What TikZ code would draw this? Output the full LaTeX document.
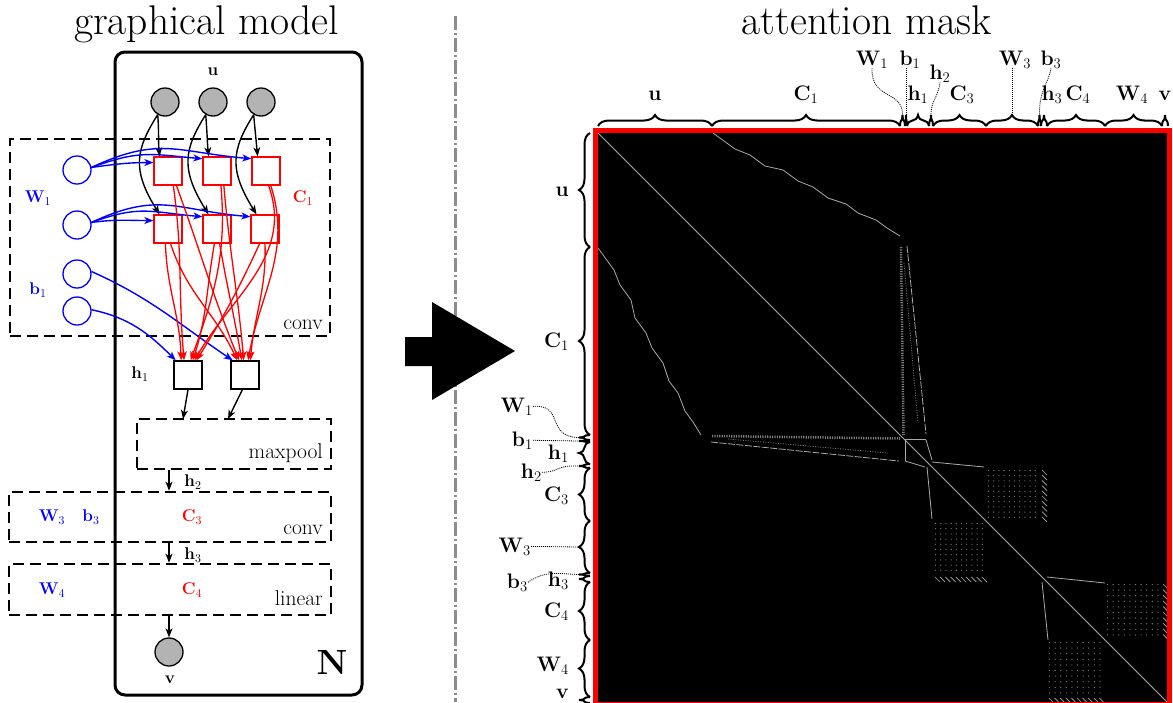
\RequirePackage{fix-cm}
\documentclass[tikz,border=0pt]{standalone}
\usetikzlibrary{arrows.meta,decorations.pathreplacing,calc}

\definecolor{ugray}{RGB}{179,179,179}
\definecolor{mline}{RGB}{170,170,170}
\definecolor{mdot}{RGB}{125,125,125}
\definecolor{sepgray}{RGB}{140,140,140}
\definecolor{pblue}{RGB}{0,0,255}
\definecolor{pred}{RGB}{255,0,0}

\newcommand{\fsz}[1]{\fontsize{#1}{#1}\selectfont}

\tikzset{
  tipb/.style={-{Stealth[length=9pt,width=7pt,inset=2.5pt]}},
  blk/.style={tipb, line width=1.4pt, black},
  blu/.style={tipb, line width=1.4pt, pblue},
  rd/.style={tipb, line width=1.3pt, pred},
  uvar/.style={circle, draw=black, fill=ugray, line width=1.3pt, minimum size=28pt, inner sep=0pt},
  wvar/.style={circle, draw=pblue, fill=white, line width=1.3pt, minimum size=28pt, inner sep=0pt},
  cfac/.style={rectangle, draw=pred, fill=white, line width=1.3pt, minimum size=28pt, inner sep=0pt},
  hvar/.style={rectangle, draw=black, fill=white, line width=1.3pt, minimum size=28pt, inner sep=0pt},
  layerbox/.style={draw, line width=2.6pt, dash pattern=on 11pt off 6pt, inner sep=0pt},
  platebox/.style={draw, line width=3pt, rounded corners=10pt, inner sep=0pt},
  glab/.style={font=\fsz{17}, inner sep=0pt},
  llab/.style={font=\fsz{21.5}, inner sep=0pt, anchor=base east},
  ttl/.style={font=\fsz{41.5}, inner sep=0pt, anchor=base},
  mlab/.style={font=\fsz{21}, inner sep=0pt},
  mbrace/.style={decorate, decoration={brace, amplitude=11pt}, line width=2pt},
  leader/.style={line width=0.8pt, dash pattern=on 1pt off 1pt},
  hatch/.style={mline, line width=0.7pt},
}

\begin{document}
\begin{tikzpicture}[x=1pt,y=1pt]
\useasboundingbox (0,0) rectangle (1173,-702);

% ---------- titles ----------
\node[ttl] (tgm) at (206.5,-34) {graphical model};
\node[ttl] (tam) at (866.5,-34) {attention mask};

% ---------- separator and transition arrow ----------
\draw[sepgray, line width=3pt, dash pattern=on 14pt off 3pt on 2pt off 3pt] (455,-16) -- (455,-702);
\fill (405,-337) -- (432,-337) -- (432,-302) -- (515,-351) -- (432,-400) -- (432,-366) -- (405,-366) -- cycle;

% ---------- graphical model: plate and layer boxes ----------
\node[platebox, minimum width=247pt, minimum height=643pt] (plate) at (238.5,-373.5) {};
\node[layerbox, minimum width=320pt, minimum height=197pt] (conv1) at (170,-237.5) {};
\node[layerbox, minimum width=194pt, minimum height=50pt] (pool) at (234,-444) {};
\node[layerbox, minimum width=322pt, minimum height=50pt] (conv2) at (170,-517) {};
\node[layerbox, minimum width=322pt, minimum height=51pt] (lin) at (170,-589.5) {};
\node[llab] (lconv1) at (323,-329) {conv};
\node[llab] (lpool) at (323,-458) {maxpool};
\node[llab] (lconv2) at (323,-534) {conv};
\node[llab] (llin) at (323,-605) {linear};
\node[font=\fsz{35}, inner sep=0pt] (lN) at (332,-662) {$\mathbf{N}$};

% ---------- variables ----------
\foreach \i/\x in {1/165,2/213,3/261} \node[uvar] (u\i) at (\x,-102) {};
\node[glab] (lu) at (213,-72) {$\mathbf{u}$};
\node[wvar] (w1a) at (77,-170) {};
\node[wvar] (w1b) at (77,-225) {};
\node[wvar] (b1a) at (77,-274) {};
\node[wvar] (b1b) at (77,-311) {};
\node[glab, pblue] (lW1) at (38,-198) {$\mathbf{W}_1$};
\node[glab, pblue] (lb1) at (38,-290) {$\mathbf{b}_1$};
\foreach \i/\x in {1/168,2/217,3/266} \node[cfac] (c1\i) at (\x,-171) {};
\foreach \i/\x in {1/168,2/217,3/265} \node[cfac] (c2\i) at (\x,-229) {};
\node[glab, pred] (lC1) at (303,-198) {$\mathbf{C}_1$};
\node[hvar] (h1a) at (188,-375) {};
\node[hvar] (h1b) at (245,-375) {};
\node[glab] (lh1) at (140,-374) {$\mathbf{h}_1$};
\node[glab] (lh2) at (193,-482) {$\mathbf{h}_2$};
\node[glab] (lh3) at (193,-555) {$\mathbf{h}_3$};
\node[glab, pblue] (lW3) at (52,-517) {$\mathbf{W}_3$};
\node[glab, pblue] (lb3) at (91,-517) {$\mathbf{b}_3$};
\node[glab, pred] (lC3) at (192,-517) {$\mathbf{C}_3$};
\node[glab, pblue] (lW4) at (52,-590) {$\mathbf{W}_4$};
\node[glab, pred] (lC4) at (192,-590) {$\mathbf{C}_4$};
\node[uvar] (v) at (169,-652) {};
\node[glab] (lv) at (170,-680) {$\mathbf{v}$};

% ---------- input to convolution factors ----------
\foreach \i in {1,2,3}{
  \draw[blk] (u\i.240) to[out=-85,in=95] (c1\i.120);
  \draw[blk] (u\i.240) .. controls ($(u\i.240)+(-22,-35)$) and ($(c2\i.120)+(-28,45)$) .. (c2\i.120);
}
\foreach \s/\r in {w1a/1, w1b/2}{
  \draw[blu] (\s.10) to[out=8,in=180] (c\r1.150);
  \draw[blu] (\s.10) to[out=20,in=175,looseness=1.2] (c\r2.140);
  \draw[blu] (\s.10) to[out=25,in=175,looseness=1.2] (c\r3.140);
}
\draw[blu] (b1a.10) to[out=-24,in=146] (h1b.130);
\draw[blu] (b1b.5) to[out=-12,in=135] (h1a.130);

% ---------- convolution factors to hidden units ----------
\draw[rd] (c11.-70) to[out=-82,in=95] (h1a.105);
\draw[rd] (c11.-60) to[out=-70,in=112] (h1b.112);
\draw[rd] (c21.-100) to[out=-88,in=92] (h1a.115);
\draw[rd] (c21.-80) to[out=-72,in=115] (h1b.118);
\draw[rd] (c12.-75) to[out=-85,in=70] (h1a.80);
\draw[rd] (c12.-65) to[out=-85,in=95] (h1b.95);
\draw[rd] (c22.-100) to[out=-100,in=72] (h1a.72);
\draw[rd] (c22.-80) to[out=-80,in=100] (h1b.102);
\draw[rd] (c13.-80) to[out=-70,in=60] (h1a.66);
\draw[rd] (c13.-72) to[out=-72,in=80] (h1b.78);
\draw[rd] (c23.-110) to[out=-115,in=58] (h1a.60);
\draw[rd] (c23.-90) to[out=-88,in=85] (h1b.70);

% ---------- downstream layers ----------
\coordinate (p1) at (183,-419);
\coordinate (p2) at (228,-419);
\draw[blk] (h1a.south) -- (p1);
\draw[blk] (h1b.-100) -- (p2);
\draw[blk] (v |- pool.south) -- (v |- conv2.north);
\draw[blk] (v |- conv2.south) -- (v |- lin.north);
\draw[blk] (v |- lin.south) -- (v.north);

% ---------- attention mask ----------
\fill[black] (595.5,-130.5) rectangle (1169.5,-704.5);
\begin{scope}[shift={(598,-133)}, yscale=-1]
  % diagonal
  \draw[mline, line width=0.8pt] (0,0) -- (569,569);
  % u <-> C1
  \draw[mline, line width=0.8pt] (115,0) -- (137,16) -- (152,22) -- (167,33) -- (185,37) -- (200,48)
     -- (215,54) -- (230,65) -- (248,71) -- (260,80) -- (278,87) -- (289,95) -- (302,103);
  \draw[mline, line width=0.8pt] (0,115) -- (16,137) -- (22,152) -- (33,167) -- (37,185) -- (48,200)
     -- (54,215) -- (65,230) -- (71,248) -- (80,260) -- (87,278) -- (95,289) -- (103,302);
  % C1 <-> W1, h1
  \draw[mdot, line width=2.5pt, dash pattern=on 1.2pt off 1.2pt] (303,114) -- (305.5,302);
  \draw[mdot, line width=2.5pt, dash pattern=on 1.2pt off 1.2pt] (114,303) -- (302,305.5);
  \draw[mline, line width=0.8pt, dash pattern=on 7pt off 1.5pt] (309,113) -- (328,301);
  \draw[mline, line width=0.8pt, dash pattern=on 7pt off 1.5pt] (113,309) -- (301,328);
  \draw[mdot, line width=0.8pt, dash pattern=on 1pt off 1.5pt] (306,130) -- (320,290);
  \draw[mdot, line width=0.8pt, dash pattern=on 1pt off 1.5pt] (130,306) -- (290,320);
  % b1, h1, h2
  \draw[mline, line width=0.8pt] (328,306) -- (307,306) -- (307,328);
  \draw[mline, line width=0.8pt] (328,307) -- (334,327);
  \draw[mline, line width=0.8pt] (307,328) -- (327,334);
  \draw[mline, line width=0.8pt] (334,329) -- (386,334);
  \draw[mline, line width=0.8pt] (329,334) -- (334,386);
  % C3 <-> W3
  \foreach \i in {0,...,9}{\foreach \j in {0,...,9}{
    \fill[mdot] (390.5+\i*5.2, 337.5+\j*5.2) circle (0.65);
    \fill[mdot] (337.5+\i*5.2, 390.5+\j*5.2) circle (0.65);
  }}
  \foreach \k in {0,...,9}{
    \draw[hatch] (444,337+\k*5.2) -- (449,342+\k*5.2);
    \draw[hatch] (337+\k*5.2,444) -- (342+\k*5.2,449);
  }
  % h3 <-> C4
  \draw[mline, line width=0.8pt] (449,444) -- (507,450);
  \draw[mline, line width=0.8pt] (444,449) -- (450,507);
  % C4 <-> W4
  \foreach \i in {0,...,9}{\foreach \j in {0,...,9}{
    \fill[mdot] (509.5+\i*5.6, 451.5+\j*5.6) circle (0.65);
    \fill[mdot] (451.5+\i*5.6, 509.5+\j*5.6) circle (0.65);
  }}
  \foreach \k in {0,...,9}{
    \draw[hatch] (565,451+\k*5.6) -- (570,456+\k*5.6);
    \draw[hatch] (451+\k*5.6,565) -- (456+\k*5.6,570);
  }
\end{scope}
\draw[pred, line width=5pt] (595.5,-130.5) rectangle (1169.5,-704.5);

% ---------- column braces ----------
\foreach \n/\a/\b in {u/598/712, C1/712/900, W1/900/905, b1/905/907, h1/907/929, h2/929/933,
    C3/933/986, W3/986/1038, b3/1038/1041, h3/1041/1047, C4/1047/1105, W4/1105/1162, v/1162/1168}{
  \draw[mbrace] (\a,-126) -- (\b,-126);
  \coordinate (t\n) at ({(\a+\b)/2},-115);
}
\node[mlab, anchor=base] (mu) at (655,-100) {$\mathbf{u}$};
\node[mlab, anchor=base] (mC1) at (806,-100) {$\mathbf{C}_1$};
\node[mlab, anchor=base] (mh1) at (918,-100) {$\mathbf{h}_1$};
\node[mlab, anchor=base] (mC3) at (962,-100) {$\mathbf{C}_3$};
\node[mlab, anchor=base] (mh3) at (1052,-100) {$\mathbf{h}_3$};
\node[mlab, anchor=base] (mC4) at (1078,-100) {$\mathbf{C}_4$};
\node[mlab, anchor=base] (mW4) at (1132,-100) {$\mathbf{W}_4$};
\node[mlab, anchor=base] (mv) at (1165,-100) {$\mathbf{v}$};
\node[mlab, anchor=base] (mW1) at (872,-65) {$\mathbf{W}_1$};
\node[mlab, anchor=base] (mb1) at (910,-65) {$\mathbf{b}_1$};
\node[mlab, anchor=base] (mW3) at (1015,-65) {$\mathbf{W}_3$};
\node[mlab, anchor=base] (mb3) at (1051,-65) {$\mathbf{b}_3$};
\node[mlab, anchor=base] (mh2) at (940,-79) {$\mathbf{h}_2$};
\draw[leader] (mW1.south) .. controls (871,-100) and (903,-90) .. (tW1);
\draw[leader] (tb1 |- mb1.south) -- (tb1);
\draw[leader] (mh2.south) .. controls (938,-98) and (931,-100) .. (th2);
\draw[leader] (tW3 |- mW3.south) -- (tW3);
\draw[leader] (mb3.south) .. controls (1048,-85) and (1039,-90) .. (tb3);

% ---------- row braces ----------
\foreach \n/\a/\b in {u/133/247, C1/247/435, W1/435/440, b1/440/442, h1/442/464, h2/464/468,
    C3/468/521, W3/521/573, b3/573/576, h3/576/582, C4/582/640, W4/640/697, v/697/703}{
  \draw[mbrace] (590,-\b) -- (590,-\a);
  \coordinate (s\n) at (579,{-(\a+\b)/2});
}
\node[mlab, anchor=base east] (nu) at (569,-196) {$\mathbf{u}$};
\node[mlab, anchor=base east] (nC1) at (569,-347) {$\mathbf{C}_1$};
\node[mlab, anchor=base east] (nh1) at (569,-459) {$\mathbf{h}_1$};
\node[mlab, anchor=base east] (nC3) at (569,-501) {$\mathbf{C}_3$};
\node[mlab, anchor=base east] (nh3) at (569,-586) {$\mathbf{h}_3$};
\node[mlab, anchor=base east] (nC4) at (569,-617) {$\mathbf{C}_4$};
\node[mlab, anchor=base east] (nW4) at (569,-671) {$\mathbf{W}_4$};
\node[mlab, anchor=base east] (nv) at (569,-698.5) {$\mathbf{v}$};
\node[mlab, anchor=base east] (nW1) at (533,-412) {$\mathbf{W}_1$};
\node[mlab, anchor=base east] (nb1) at (533,-446) {$\mathbf{b}_1$};
\node[mlab, anchor=base east] (nh2) at (542,-478) {$\mathbf{h}_2$};
\node[mlab, anchor=base east] (nW3) at (531,-552) {$\mathbf{W}_3$};
\node[mlab, anchor=base east] (nb3) at (528,-588) {$\mathbf{b}_3$};
\draw[leader] (nW1.east) .. controls (565,-404) and (545,-437) .. (sW1);
\draw[leader] (nb1.east) -- (sb1);
\draw[leader] (nh2.east) .. controls (560,-472) and (555,-465) .. (sh2);
\draw[leader] (nW3.east) -- (sW3);
\draw[leader] (nb3.east) .. controls (545,-570) and (560,-574) .. (sb3);
\end{tikzpicture}
\end{document}
